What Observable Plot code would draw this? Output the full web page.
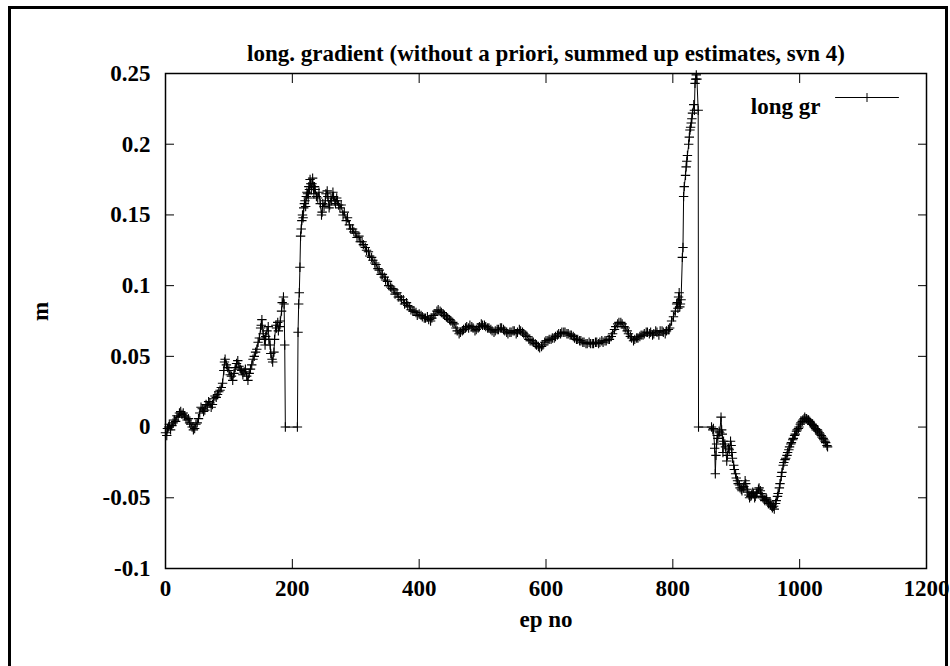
<!DOCTYPE html>
<html>
<head>
<meta charset="utf-8">
<script src="https://cdn.jsdelivr.net/npm/d3@7"></script>
<script src="https://cdn.jsdelivr.net/npm/@observablehq/plot@0.6"></script>
<style>
  html, body { margin: 0; padding: 0; background: #fff; }
  #wrap { position: relative; width: 950px; height: 666px; overflow: hidden; }
  #chart { position: absolute; left: 0; top: 0; }
  #border { position: absolute; left: 8px; top: 6px; width: 934px; height: 720px; border: 3px solid #000; pointer-events: none; }
</style>
</head>
<body>
<div id="wrap"><div id="chart"></div><div id="border"></div></div>
<script>
// Longitudinal gradient estimates: [epoch number, value in m]
const samples = [
  [0, -0.004], [2, -0.006], [3, -0.001], [5, 0.000], [6, 0.002], [8, -0.002], [10, 0.001], [12, 0.003], [14, 0.005],
  [16, 0.004], [18, 0.008], [20, 0.007], [22, 0.010], [24, 0.011], [26, 0.009], [28, 0.010], [30, 0.008], [32, 0.007],
  [34, 0.005], [36, 0.006], [38, 0.003], [40, 0.002], [42, 0.000], [44, -0.002], [46, -0.001], [48, 0.002], [50, 0.003],
  [52, 0.006], [54, 0.010], [56, 0.014], [58, 0.013], [60, 0.011], [62, 0.012], [64, 0.016], [66, 0.015], [68, 0.018],
  [70, 0.017], [72, 0.014], [74, 0.016], [76, 0.020], [78, 0.022], [80, 0.021], [82, 0.023], [84, 0.025], [86, 0.026],
  [88, 0.028], [90, 0.031], [92, 0.040], [93, 0.046], [94, 0.048], [96, 0.044], [98, 0.042], [100, 0.040], [102, 0.037],
  [104, 0.036], [106, 0.033], [108, 0.038], [110, 0.042], [112, 0.045], [114, 0.047], [116, 0.043], [118, 0.041],
  [120, 0.040], [122, 0.037], [124, 0.039], [126, 0.041], [128, 0.036], [130, 0.033], [132, 0.038], [134, 0.041],
  [136, 0.044], [138, 0.048], [140, 0.050], [142, 0.053], [144, 0.055], [146, 0.060], [148, 0.063], [150, 0.070],
  [151, 0.072], [152, 0.076], [154, 0.066], [156, 0.062], [157, 0.058], [158, 0.064], [160, 0.068], [162, 0.071],
  [163, 0.062], [165, 0.058], [166, 0.052], [168, 0.048], [169, 0.046], [171, 0.053], [172, 0.062], [174, 0.072],
  [175, 0.070], [177, 0.074], [178, 0.068], [180, 0.071], [181, 0.075], [183, 0.082], [184, 0.088], [186, 0.092],
  [187, 0.087], [188, 0.058], [189, 0.000], [208, 0.000], [209, 0.067], [210, 0.087], [211, 0.095], [212, 0.113],
  [213, 0.135], [214, 0.140], [215, 0.146], [216, 0.150], [217, 0.148], [218, 0.155], [219, 0.158], [220, 0.160],
  [221, 0.156], [222, 0.163], [223, 0.166], [224, 0.165], [225, 0.162], [226, 0.170], [227, 0.168], [228, 0.175],
  [229, 0.172], [230, 0.168], [231, 0.172], [232, 0.176], [233, 0.170], [234, 0.165], [235, 0.170], [236, 0.168],
  [238, 0.163], [240, 0.162], [242, 0.166], [244, 0.158], [246, 0.150], [247, 0.152], [248, 0.158], [250, 0.156],
  [252, 0.160], [253, 0.165], [255, 0.167], [256, 0.163], [258, 0.155], [259, 0.157], [261, 0.162], [262, 0.160],
  [264, 0.166], [265, 0.163], [267, 0.160], [268, 0.158], [270, 0.162], [271, 0.160], [273, 0.157], [275, 0.155],
  [277, 0.157], [280, 0.150], [282, 0.152], [285, 0.146], [287, 0.148], [290, 0.143], [292, 0.140], [295, 0.140],
  [297, 0.138], [300, 0.137], [302, 0.134], [305, 0.135], [307, 0.131], [310, 0.131], [312, 0.129], [315, 0.127],
  [317, 0.125], [320, 0.124], [322, 0.121], [325, 0.120], [327, 0.118], [330, 0.116], [332, 0.115], [335, 0.112],
  [337, 0.111], [340, 0.108], [342, 0.108], [345, 0.106], [347, 0.104], [350, 0.103], [352, 0.100], [355, 0.099],
  [357, 0.098], [360, 0.097], [362, 0.094], [365, 0.095], [367, 0.092], [370, 0.092], [372, 0.090], [375, 0.090],
  [377, 0.087], [380, 0.088], [382, 0.086], [385, 0.085], [387, 0.083], [390, 0.082], [392, 0.082], [395, 0.081],
  [397, 0.079], [400, 0.080], [403, 0.079], [405, 0.078], [408, 0.077], [410, 0.077], [413, 0.078], [415, 0.076],
  [418, 0.075], [420, 0.077], [423, 0.079], [425, 0.080], [428, 0.082], [430, 0.083], [433, 0.082], [435, 0.081],
  [438, 0.080], [440, 0.079], [443, 0.078], [445, 0.077], [448, 0.076], [450, 0.075], [453, 0.074], [455, 0.073],
  [458, 0.070], [460, 0.068], [463, 0.066], [465, 0.067], [468, 0.068], [470, 0.069], [473, 0.070], [475, 0.071],
  [478, 0.070], [480, 0.072], [483, 0.071], [485, 0.070], [488, 0.068], [490, 0.069], [493, 0.070], [495, 0.071],
  [498, 0.073], [500, 0.072], [503, 0.072], [505, 0.071], [508, 0.070], [510, 0.070], [513, 0.069], [515, 0.068],
  [518, 0.067], [520, 0.068], [523, 0.069], [525, 0.069], [528, 0.070], [530, 0.070], [533, 0.069], [535, 0.068],
  [538, 0.067], [540, 0.066], [543, 0.067], [545, 0.067], [548, 0.068], [550, 0.068], [553, 0.066], [555, 0.067],
  [558, 0.069], [560, 0.068], [563, 0.067], [565, 0.066], [568, 0.065], [570, 0.064], [573, 0.062], [575, 0.061],
  [578, 0.061], [580, 0.060], [583, 0.059], [585, 0.058], [588, 0.057], [590, 0.056], [593, 0.057], [595, 0.058],
  [598, 0.060], [600, 0.061], [603, 0.061], [605, 0.062], [608, 0.062], [610, 0.063], [613, 0.063], [615, 0.064],
  [618, 0.065], [620, 0.066], [623, 0.066], [625, 0.067], [628, 0.067], [630, 0.067], [633, 0.066], [635, 0.066],
  [638, 0.065], [640, 0.065], [643, 0.064], [645, 0.063], [648, 0.062], [650, 0.062], [653, 0.061], [655, 0.061],
  [658, 0.060], [660, 0.060], [663, 0.059], [665, 0.059], [668, 0.060], [670, 0.059], [673, 0.059], [675, 0.059],
  [678, 0.060], [680, 0.060], [683, 0.059], [685, 0.060], [688, 0.061], [690, 0.060], [693, 0.061], [695, 0.061],
  [698, 0.062], [700, 0.062], [703, 0.064], [705, 0.066], [708, 0.069], [710, 0.071], [713, 0.073], [715, 0.074],
  [718, 0.074], [720, 0.073], [723, 0.071], [725, 0.070], [728, 0.068], [730, 0.066], [733, 0.064], [735, 0.063],
  [738, 0.061], [740, 0.062], [743, 0.063], [745, 0.063], [748, 0.064], [750, 0.065], [753, 0.065], [755, 0.066],
  [758, 0.067], [760, 0.067], [763, 0.066], [765, 0.067], [768, 0.065], [770, 0.066], [773, 0.068], [775, 0.067],
  [778, 0.065], [780, 0.068], [783, 0.068], [785, 0.067], [788, 0.066], [790, 0.068], [793, 0.069], [795, 0.070],
  [798, 0.075], [801, 0.078], [804, 0.082], [806, 0.087], [807, 0.088], [808, 0.084], [809, 0.092], [810, 0.095],
  [811, 0.085], [812, 0.087], [813, 0.090], [815, 0.120], [816, 0.127], [817, 0.163], [818, 0.170], [820, 0.178],
  [821, 0.184], [822, 0.188], [823, 0.192], [825, 0.200], [826, 0.205], [827, 0.210], [828, 0.212], [829, 0.215],
  [830, 0.218], [831, 0.222], [833, 0.228], [834, 0.224], [835, 0.243], [836, 0.246], [837, 0.249], [838, 0.246],
  [840, 0.224], [840.5, 0.000], [861, 0.000], [863, -0.002], [864, -0.001], [866, -0.015], [867, -0.033],
  [868, -0.020], [869, -0.012], [870, -0.006], [871, -0.008], [873, -0.003], [874, -0.004], [876, 0.007],
  [877, -0.002], [878, -0.005], [879, -0.018], [880, -0.010], [882, -0.012], [883, -0.014], [885, -0.024],
  [886, -0.020], [888, -0.015], [889, -0.016], [891, -0.010], [892, -0.013], [893, -0.018], [894, -0.022],
  [896, -0.027], [897, -0.030], [899, -0.033], [900, -0.036], [902, -0.038], [903, -0.040], [905, -0.041],
  [906, -0.043], [908, -0.044], [909, -0.045], [911, -0.043], [912, -0.042], [914, -0.038], [915, -0.040],
  [917, -0.044], [918, -0.046], [920, -0.048], [921, -0.050], [923, -0.049], [924, -0.048], [926, -0.046],
  [927, -0.047], [929, -0.050], [930, -0.049], [932, -0.047], [933, -0.046], [935, -0.044], [936, -0.043],
  [938, -0.045], [939, -0.047], [941, -0.049], [942, -0.050], [944, -0.051], [945, -0.052], [947, -0.050],
  [948, -0.051], [950, -0.053], [951, -0.054], [953, -0.053], [954, -0.055], [956, -0.056], [957, -0.057],
  [959, -0.056], [960, -0.058], [962, -0.054], [963, -0.052], [965, -0.049], [966, -0.047], [968, -0.043],
  [969, -0.040], [971, -0.035], [972, -0.032], [974, -0.027], [975, -0.025], [977, -0.023], [978, -0.022],
  [980, -0.020], [981, -0.018], [983, -0.016], [984, -0.014], [986, -0.012], [987, -0.011], [989, -0.009],
  [990, -0.008], [992, -0.006], [993, -0.005], [995, -0.003], [996, -0.002], [998, -0.001], [999, 0.000],
  [1001, 0.002], [1002, 0.003], [1004, 0.004], [1005, 0.005], [1007, 0.006], [1008, 0.007], [1010, 0.006],
  [1011, 0.006], [1013, 0.005], [1014, 0.005], [1016, 0.004], [1017, 0.003], [1019, 0.002], [1020, 0.002],
  [1022, 0.001], [1023, 0.000], [1025, -0.001], [1026, -0.002], [1028, -0.002], [1029, -0.003], [1031, -0.004],
  [1032, -0.005], [1034, -0.006], [1035, -0.007], [1037, -0.008], [1038, -0.009], [1040, -0.010], [1041, -0.011],
  [1043, -0.013], [1044, -0.014]
];

const xTicks = [0, 200, 400, 600, 800, 1000, 1200];
const xTickLabels = ["0", "200", "400", "600", "800", "1000", "1200"];
const yTicks = [-0.1, -0.05, 0, 0.05, 0.1, 0.15, 0.2, 0.25];
const yTickLabels = ["-0.1", "-0.05", "0", "0.05", "0.1", "0.15", "0.2", "0.25"];

const titleText = "long. gradient (without a priori, summed up estimates, svn 4)";
const xLabel = "ep no";
const yLabel = "m";
const seriesName = "long gr";

const points = samples.map(([ep, value]) => ({ep, value}));

// thin "+" marker, stroked rather than filled
const cross = {
  draw(context, size) {
    const r = Math.sqrt(size / Math.PI);
    context.moveTo(-r, 0); context.lineTo(r, 0);
    context.moveTo(0, -r); context.lineTo(0, r);
  }
};
// single-stroke shape for the legend sample line
const segment = {
  draw(context, l) { context.moveTo(0, 0); context.lineTo(0, -l); }
};

const font = "'Liberation Serif', 'Times New Roman', serif";
const fs = 23;

const chart = Plot.plot({
  width: 950,
  height: 666,
  marginLeft: 165,
  marginRight: 24,
  marginTop: 73,
  marginBottom: 98,
  style: {fontFamily: font, fontSize: fs + "px", fontWeight: "bold", color: "#000", background: "transparent"},
  x: {domain: [0, 1200]},
  y: {domain: [-0.1, 0.25]},
  marks: [
    Plot.axisX({anchor: "bottom", ticks: xTicks, tickSize: -9, tickPadding: 20, fontSize: fs,
      tickFormat: d => xTickLabels[xTicks.indexOf(d)], label: null}),
    Plot.axisX({anchor: "top", ticks: xTicks, tickSize: -9, tickFormat: () => "", label: null}),
    Plot.axisY({anchor: "left", ticks: yTicks, tickSize: -9, tickPadding: 24, fontSize: fs,
      tickFormat: d => yTickLabels[yTicks.findIndex(t => Math.abs(t - d) < 1e-9)], label: null}),
    Plot.axisY({anchor: "right", ticks: yTicks, tickSize: -9, tickFormat: () => "", label: null}),
    Plot.line(points, {x: "ep", y: "value", stroke: "#000", strokeWidth: 1}),
    Plot.dot(points, {x: "ep", y: "value", symbol: cross, r: 4.7, fill: "none", stroke: "#000", strokeWidth: 1.1}),
    Plot.frame({stroke: "#000", strokeWidth: 1.5}),
    // title
    Plot.text([titleText], {text: d => d, frameAnchor: "top", dy: -29, fontSize: fs, fontWeight: "bold"}),
    // axis labels
    Plot.text([xLabel], {text: d => d, frameAnchor: "bottom", dy: 58, fontSize: fs, fontWeight: "bold"}),
    Plot.text([yLabel], {text: d => d, frameAnchor: "left", dx: -125, rotate: -90, fontSize: fs, fontWeight: "bold"}),
    // legend
    Plot.text([seriesName], {text: d => d, frameAnchor: "top-right", dx: -106, dy: 24, textAnchor: "end", fontSize: fs, fontWeight: "bold"}),
    Plot.vector([seriesName], {frameAnchor: "top-right", dx: -91, dy: 24, length: 63, rotate: 90, anchor: "start", shape: segment, stroke: "#000", strokeWidth: 1}),
    Plot.dot([seriesName], {frameAnchor: "top-right", dx: -59.5, dy: 24, symbol: cross, r: 4.5, fill: "none", stroke: "#000", strokeWidth: 1})
  ]
});

document.getElementById("chart").appendChild(chart);
</script>
</body>
</html>
